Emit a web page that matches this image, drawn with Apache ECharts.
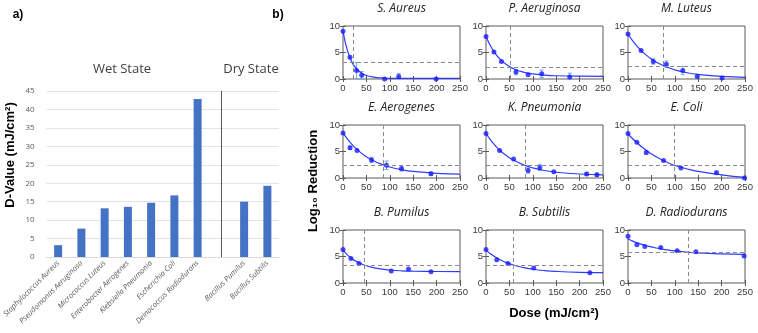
<!DOCTYPE html>
<html>
<head>
<meta charset="utf-8">
<script src="https://cdn.jsdelivr.net/npm/echarts@6/dist/echarts.min.js"></script>
<style>
  html, body { margin: 0; padding: 0; background: #fff; }
  #main { width: 758px; height: 333px; }
</style>
</head>
<body>
<div id="main"></div>
<script>
// ---- panel a) D-values ----
var barNames = ['Staphylococcus Aureus', 'Pseudomonas Aeruginosa', 'Micrococcus Luteus',
  'Enterobacter Aerogenes', 'Klebsiella Pneumonia', 'Escherichia Coli',
  'Deinococcus Radiodurans', '', 'Bacillus Pumilus', 'Bacillus Subtilis'];
var dValues = [3.2, 7.7, 13.2, 13.6, 14.7, 16.7, 42.8, null, 15.0, 19.3];
var dTicks = [0, 5, 10, 15, 20, 25, 30, 35, 40, 45];

// ---- panel b) inactivation curves ----
var species = ['S. Aureus', 'P. Aeruginosa', 'M. Luteus', 'E. Aerogenes', 'K. Pneumonia',
  'E. Coli', 'B. Pumilus', 'B. Subtilis', 'D. Radiodurans'];
var doseTicks = [0, 50, 100, 150, 200, 250];
var logTicks = [0, 5, 10];

var pDose = [
  [0, 15, 29, 40, 89, 119, 199],
  [0, 17, 33, 64, 90, 119, 179],
  [0, 28, 54, 82, 117, 148, 201],
  [0, 15, 30, 61, 93, 125, 188],
  [0, 29, 59, 90, 115, 145, 215, 237],
  [0, 19, 39, 76, 113, 189, 249],
  [0, 17, 34, 103, 140, 188],
  [0, 23, 47, 102, 222],
  [0, 19, 36, 70, 105, 145, 248]
];
var pLog = [
  [9.0, 4.1, 1.6, 0.7, 0.0, 0.45, 0.0],
  [8.0, 5.1, 3.3, 1.3, 0.8, 1.0, 0.4],
  [8.5, 5.4, 3.3, 2.8, 1.6, 0.45, 0.2],
  [8.5, 5.7, 5.2, 3.4, 2.4, 1.8, 0.8],
  [8.4, 5.2, 3.6, 1.4, 2.0, 1.2, 0.75, 0.6],
  [8.4, 6.75, 4.8, 3.3, 1.9, 1.0, 0.0],
  [6.3, 4.6, 3.7, 2.25, 2.65, 2.1],
  [6.3, 4.4, 3.7, 2.85, 1.95],
  [8.8, 7.2, 6.9, 6.7, 6.1, 5.9, 5.1]
];
var pErr = [
  [0, 0, 1.5, 0.7, 0, 0.6, 0],
  [0, 0, 0, 0.5, 0, 0.7, 0.7],
  [0, 0, 0.5, 0.6, 0.8, 0.3, 0],
  [0, 0.3, 0, 0.5, 0.8, 0.5, 0.3],
  [0, 0, 0, 0.5, 0.6, 0, 0.3, 0.3],
  [0, 0, 0.3, 0, 0, 0.3, 0],
  [0, 0, 0, 0, 0, 0],
  [0, 0, 0, 0, 0],
  [0, 0, 0, 0, 0, 0, 0]
];
var fitDose = [0, 10, 20, 30, 45, 60, 80, 100, 125, 150, 200, 250];
var fitLog = [
  [9.0, 5.2, 3.0, 1.8, 0.85, 0.45, 0.2, 0.12, 0.1, 0.1, 0.1, 0.1],
  [8.0, 6.17, 4.78, 3.74, 2.63, 1.9, 1.3, 0.96, 0.73, 0.61, 0.53, 0.51],
  [8.5, 7.21, 6.12, 5.2, 4.08, 3.21, 2.35, 1.73, 1.2, 0.86, 0.48, 0.32],
  [8.5, 7.28, 6.25, 5.38, 4.31, 3.49, 2.66, 2.08, 1.57, 1.24, 0.88, 0.72],
  [8.4, 7.15, 6.09, 5.2, 4.13, 3.3, 2.48, 1.9, 1.41, 1.09, 0.75, 0.6],
  [8.3, 7.4, 6.6, 5.85, 4.85, 4.0, 3.1, 2.35, 1.75, 1.25, 0.6, 0.1],
  [6.2, 5.27, 4.55, 4.0, 3.4, 3.0, 2.65, 2.45, 2.3, 2.23, 2.17, 2.15],
  [6.2, 5.49, 4.89, 4.39, 3.8, 3.35, 2.91, 2.6, 2.34, 2.18, 2.01, 1.95],
  [8.3, 7.91, 7.57, 7.28, 6.9, 6.6, 6.29, 6.05, 5.83, 5.67, 5.49, 5.39]
];
var refDose = [21, 51, 76, 85, 84, 99, 45, 58, 129];
var refLog = [3.1, 2.2, 2.5, 2.5, 2.35, 2.35, 3.4, 3.4, 5.8];

var chart = echarts.init(document.getElementById('main'), null, { renderer: 'canvas' });

var colLeft = [343, 486, 628];
var rowTop = [26, 125, 230];
var boxW = 117, boxH = 53;

var grids = [{ left: 44, top: 91, width: 235, height: 166 }];
var xAxes = [{
  type: 'category', gridIndex: 0, data: barNames,
  axisLine: { lineStyle: { color: '#d9d9d9' } },
  axisTick: { show: false },
  axisLabel: { rotate: 45, interval: 0, fontSize: 7.5, fontStyle: 'italic', color: '#595959',
    fontFamily: 'Open Sans', margin: 5 }
}];
var yAxes = [{
  type: 'value', gridIndex: 0, min: 0, max: dTicks[dTicks.length - 1], interval: dTicks[1] - dTicks[0],
  axisLine: { show: false }, axisTick: { show: false },
  axisLabel: { fontSize: 8, color: '#595959', fontFamily: 'Open Sans', margin: 12 },
  splitLine: { lineStyle: { color: '#e3e3e3' } }
}];
var series = [{
  type: 'bar', xAxisIndex: 0, yAxisIndex: 0, data: dValues, barWidth: 8,
  itemStyle: { color: '#4472c4' },
  markLine: {
    silent: true, symbol: 'none', label: { show: false },
    lineStyle: { color: '#595959', type: 'solid', width: 1 },
    data: [{ xAxis: 7 }]
  }
}];
var texts = [];

function tx(x, y, s, font, color, rot) {
  texts.push({
    type: 'text', x: x, y: y, rotation: rot || 0, silent: true,
    style: { text: s, font: font, fill: color || '#222', textAlign: 'center', textVerticalAlign: 'middle' }
  });
}

var tickStyle = { inside: true, length: 3, lineStyle: { color: '#5a5a5a' } };
var mirrors = [];

species.forEach(function (name, i) {
  var c = i % 3, r = Math.floor(i / 3);
  var gi = i + 1;
  grids.push({ left: colLeft[c], top: rowTop[r], width: boxW, height: boxH,
    show: true, borderColor: '#5a5a5a', borderWidth: 1 });
  xAxes.push({
    type: 'value', gridIndex: gi, min: 0, max: 250, interval: doseTicks[1] - doseTicks[0],
    axisLine: { show: false }, splitLine: { show: false }, axisTick: tickStyle,
    axisLabel: { fontSize: 9.5, color: '#3a3a3a', margin: 4, fontFamily: 'Liberation Sans' }
  });
  yAxes.push({
    type: 'value', gridIndex: gi, min: 0, max: 10, interval: logTicks[1] - logTicks[0],
    axisLine: { show: false }, splitLine: { show: false }, axisTick: tickStyle,
    axisLabel: { fontSize: 9.5, color: '#3a3a3a', margin: 3, fontFamily: 'Liberation Sans' }
  });
  mirrors.push(gi);
  var pts = pDose[i].map(function (d, k) { return [d, pLog[i][k]]; });
  var errs = [];
  pDose[i].forEach(function (d, k) { if (pErr[i][k] > 0) errs.push([d, pLog[i][k], pErr[i][k]]); });
  series.push({
    type: 'custom', xAxisIndex: gi, yAxisIndex: gi, data: errs, silent: true, z: 2,
    renderItem: function (params, api) {
      var x = api.value(0), y = api.value(1), e = api.value(2);
      var lo = api.coord([x, Math.max(0, y - e)]), hi = api.coord([x, y + e]);
      var st = { stroke: '#6fa8e8', lineWidth: 1 };
      return { type: 'group', children: [
        { type: 'line', shape: { x1: lo[0], y1: lo[1], x2: hi[0], y2: hi[1] }, style: st },
        { type: 'line', shape: { x1: lo[0] - 2, y1: lo[1], x2: lo[0] + 2, y2: lo[1] }, style: st },
        { type: 'line', shape: { x1: hi[0] - 2, y1: hi[1], x2: hi[0] + 2, y2: hi[1] }, style: st }
      ] };
    }
  });
  series.push({
    type: 'line', xAxisIndex: gi, yAxisIndex: gi, smooth: true, showSymbol: false, silent: true,
    data: fitDose.map(function (d, k) { return [d, fitLog[i][k]]; }),
    lineStyle: { color: '#2f3cff', width: 1.2 }, z: 3,
    markLine: {
      silent: true, symbol: 'none', label: { show: false },
      lineStyle: { color: '#8a8a8a', type: [4, 3], width: 1 },
      data: [{ xAxis: refDose[i] }, { yAxis: refLog[i] }]
    }
  });
  series.push({
    type: 'scatter', xAxisIndex: gi, yAxisIndex: gi, data: pts, symbol: 'circle', symbolSize: 5,
    itemStyle: { color: '#1a1aff' }, z: 4
  });
  tx(colLeft[c] + boxW / 2, rowTop[r] - 17, name, 'italic 12px "Open Sans"', '#222');
});

// mirrored ticks on the top and right of each box, as in the original figure
mirrors.forEach(function (gi) {
  xAxes.push({
    type: 'value', gridIndex: gi, position: 'top', min: 0, max: 250, interval: doseTicks[1] - doseTicks[0],
    axisLine: { show: false }, splitLine: { show: false }, axisTick: tickStyle, axisLabel: { show: false }
  });
  yAxes.push({
    type: 'value', gridIndex: gi, position: 'right', min: 0, max: 10, interval: logTicks[1] - logTicks[0],
    axisLine: { show: false }, splitLine: { show: false }, axisTick: tickStyle, axisLabel: { show: false }
  });
});

tx(18, 15, 'a)', 'bold 12px "Liberation Sans"', '#000');
tx(278, 15, 'b)', 'bold 12px "Liberation Sans"', '#000');
tx(122, 69, 'Wet State', '13px "Open Sans"', '#404040');
tx(251, 69, 'Dry State', '13px "Open Sans"', '#404040');
tx(10, 155, 'D-Value (mJ/cm²)', 'bold 13px "Liberation Sans"', '#000', Math.PI / 2);
tx(313, 181, 'Log₁₀ Reduction', 'bold 13px "Liberation Sans"', '#000', Math.PI / 2);
tx(554, 313, 'Dose (mJ/cm²)', 'bold 13px "Liberation Sans"', '#000');

chart.setOption({
  animation: false,
  grid: grids,
  xAxis: xAxes,
  yAxis: yAxes,
  series: series,
  graphic: texts
});
</script>
</body>
</html>
